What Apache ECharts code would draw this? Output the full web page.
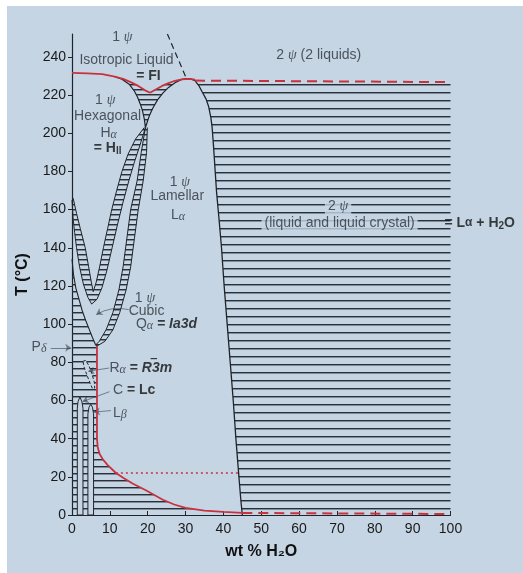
<!DOCTYPE html>
<html>
<head>
<meta charset="utf-8">
<script src="https://cdn.jsdelivr.net/npm/echarts@6/dist/echarts.min.js"></script>
<style>
    html, body { margin: 0; padding: 0; background: #fff; }
    #chart { position: absolute; left: 7px; top: 6px; width: 516px; height: 567px; background: #c5d5e4; }
</style>
</head>
<body>
<div id="chart"></div>
<script>
// 相图数据 (wt % H2O, T °C)
var liquidusLeft = [[0, 231.6], [4, 231.4], [8, 231], [11, 229.8], [13.5, 228.5], [15.5, 226.8], [17.5, 224.8], [19.2, 222.6], [20.6, 221.2]];
var liquidusRight = [[20.6, 221.2], [22, 222.8], [23.8, 224.8], [25.5, 226.3], [27.2, 227.5], [29, 228.2], [31, 228.5], [32.5, 228.1]];
var liquidusDashed = [[32.5, 227.6], [100, 226.8]];
var hexLeft = [[11.3, 229.7], [13.2, 228.3], [15.2, 225.5], [16.5, 222], [17.3, 219], [18, 215.5], [18.6, 212], [19.1, 207.5], [19.4, 203]];
var hexRight = [[19.4, 203], [19.9, 206], [20.4, 209], [21.3, 213], [22.6, 217.5], [24, 221], [25.5, 224], [27.5, 226.8], [29, 228.2]];
var lamellarDome = [[29, 228.2], [30, 228.5], [31.2, 228.6], [32.5, 227.6], [33.5, 225], [34.3, 222], [35.4, 218], [36.1, 214], [36.7, 208], [37, 203.5], [37.4, 193], [37.8, 181], [38.2, 169], [38.8, 156], [39.5, 140], [40.2, 120], [41, 100], [41.8, 80], [42.6, 60], [43.3, 40], [44.1, 20], [44.6, 8], [45, 0]];
var criticalDashed = [[25.2, 252], [30.2, 228.8]];

var uOuter = [[0, 165], [0.3, 155], [0.7, 148], [1.2, 140], [2, 130], [3, 121], [4.2, 114], [5.2, 110.5], [6.6, 113], [7.9, 119], [9.2, 128], [10.6, 140], [12, 152], [13.5, 164], [15, 175], [16.5, 185], [18, 194], [19.4, 203]];
var uInner = [[0.3, 166], [1.2, 158], [2.2, 150], [3.5, 140], [4.4, 130], [5.1, 122], [5.6, 117], [6.4, 122], [7.3, 130], [8.3, 140], [9.4, 150], [10.5, 160], [11.8, 170], [13.2, 180], [14.8, 189], [16.8, 197], [19.1, 203]];
var bLeft = [[19.4, 203], [18.3, 190], [17.2, 175], [15.5, 160], [14.5, 145], [13.5, 130], [12.4, 118], [10.8, 106], [9, 97], [7.2, 91], [6.2, 89]];
var bRight = [[19.9, 203], [19.7, 190], [18.8, 175], [17.5, 160], [16.5, 145], [15.5, 130], [14.3, 118], [12.6, 106], [10.8, 97], [8.7, 91], [6.6, 88.5]];

var cubicLower = [[0, 134], [0.4, 126], [1, 119], [1.9, 112.7], [2.7, 107], [3.6, 102], [4.5, 97.5], [5.4, 93], [6.2, 89.3], [6.6, 88.5]];
var redBottom = [[6.6, 88.5], [6.6, 40], [6.8, 35.5], [7.3, 32], [8.2, 29], [9.5, 26], [11.6, 22], [13.5, 19.5], [16, 16.5], [19.5, 13], [24, 8], [27, 5.5], [30, 3.7], [35, 2.3], [40, 1.6], [45, 1.1]];
var redBottomDashed = [[45, 1.1], [100, 0.5]];
var dotted22 = [[11.6, 22], [44.1, 22]];
var lcStrip = [[1.4, 0], [1.4, 56], [1.6, 59.5], [2.1, 61.8], [2.6, 59.5], [2.9, 56], [2.9, 0]];
var lbStrip = [[4.2, 0], [4.2, 53], [4.5, 56.5], [4.95, 58], [5.4, 56.5], [5.7, 53], [5.7, 0]];
var rEllipse = [[2.9, 80.5], [3.6, 81], [4.4, 78.5], [5.2, 74.5], [5.9, 69.5], [6, 66.5], [5.4, 66.2], [4.8, 69], [4, 73], [3.2, 77.5], [2.9, 80.5]];

// 箭头 [起点, 终点, 弯曲]
var arrows = [
    [[15.0, 107.6], [6.4, 105], -0.2],
    [[-5.6, 87.6], [-0.2, 87.6], 0],
    [[9.8, 77], [4.3, 75.3], 0],
    [[9.9, 64.6], [2.8, 59.4], 0],
    [[10.3, 54.7], [5.8, 53.9], 0]
];

// 文字标注 [x, T, 对齐, 文本]
var notes = [
    [13.3, 250.5, 'c', '{n|1 }{p|ψ}'],
    [14.4, 238.5, 'c', '{n|Isotropic Liquid}'],
    [20.2, 230, 'c', '{b|= FI}'],
    [8.8, 217.5, 'c', '{n|1 }{p|ψ}'],
    [9.4, 208.8, 'c', '{n|Hexagonal}'],
    [9.7, 200, 'c', '{n|H}{g|α}'],
    [9.4, 192, 'c', '{b|= H}{sc|II}'],
    [28.5, 174.2, 'c', '{n|1 }{p|ψ}'],
    [27.8, 166.8, 'c', '{n|Lamellar}'],
    [28, 157.2, 'c', '{n|L}{g|α}'],
    [65.2, 241, 'c', '{n|2 }{p|ψ}{n| (2 liquids)}'],
    [70.3, 161.6, 'cb', '{n|2 }{p|ψ}'],
    [70.7, 152.9, 'cb', '{n|(liquid and liquid crystal)}'],
    [98.4, 152.9, 'l', '{b|= L}{gb|α}{b| + H}{s2|2}{b|O}'],
    [19.3, 113.6, 'c', '{n|1 }{p|ψ}'],
    [19.7, 107, 'c', '{n|Cubic}'],
    [16.9, 100.1, 'l', '{n|Q}{g|α}{bi| = Ia3d}'],
    [-8.7, 88.2, 'c', '{n|P}{g|δ}'],
    [9.9, 76.9, 'l', '{n|R}{g|α}{b| = }{bi|R3m}'],
    [21.6, 77.8, 'c', '{b|‾}'],
    [10.8, 65.5, 'l', '{n|C }{b|= Lc}'],
    [10.8, 53.5, 'l', '{n|L}{g|β}']
];

var BG = '#c5d5e4';
var INK = '#1f242b';
var RED = '#c8323f';

// 横线填充
function stripes(period, color) {
    var c = document.createElement('canvas');
    c.width = 4; c.height = period;
    var g = c.getContext('2d');
    g.fillStyle = color;
    g.fillRect(0, period - 2, 4, 1);
    g.globalAlpha = 0.45;
    g.fillRect(0, period - 1, 4, 1);
    return { image: c, repeat: 'repeat' };
}
var hatchWide = stripes(8, '#2a3039');
var hatchMid = stripes(7, '#2a3039');
var hatchFine = stripes(5, '#2a3039');

function area(points, fill, stroke, dash) {
    return {
        type: 'custom', silent: true, animation: false,
        data: points,
        renderItem: function (params, api) {
            if (params.dataIndex !== 0) return;
            var pts = points.map(function (p) { return api.coord(p); });
            return {
                type: 'polygon', shape: { points: pts },
                style: { fill: fill, stroke: stroke || null, lineWidth: 1, lineDash: dash || null }
            };
        }
    };
}
function curve(points, color, width, dash) {
    return {
        type: 'line', data: points, symbol: 'none', silent: true, animation: false,
        lineStyle: { color: color, width: width, type: dash || 'solid' }
    };
}

var rich = {
    n: { fontSize: 14, color: '#2c3138', fontFamily: 'Liberation Sans', lineHeight: 16 },
    b: { fontSize: 14, color: '#111', fontWeight: 'bold', fontFamily: 'Liberation Sans', lineHeight: 16 },
    bi: { fontSize: 14, color: '#111', fontWeight: 'bold', fontStyle: 'italic', fontFamily: 'Liberation Sans', lineHeight: 16 },
    p: { fontSize: 14, color: '#2c3138', fontStyle: 'italic', fontFamily: 'Liberation Serif', lineHeight: 16 },
    g: { fontSize: 12, color: '#2c3138', fontStyle: 'italic', fontFamily: 'Liberation Serif', lineHeight: 11, verticalAlign: 'bottom', padding: [4, 0, 0, 0] },
    gb: { fontSize: 12, color: '#111', fontWeight: 'bold', fontFamily: 'Liberation Sans', lineHeight: 16 },
    sc: { fontSize: 10, color: '#111', fontWeight: 'bold', fontFamily: 'Liberation Sans', lineHeight: 11, verticalAlign: 'bottom', padding: [3, 0, 0, 0] },
    s2: { fontSize: 10, color: '#111', fontWeight: 'bold', fontFamily: 'Liberation Sans', lineHeight: 11, verticalAlign: 'bottom', padding: [4, 0, 0, 0] }
};

var noteData = notes.map(function (t) {
    var item = {
        value: [t[0], t[1]],
        label: {
            formatter: t[3],
            align: t[2] === 'l' ? 'left' : 'center'
        }
    };
    if (t[2] === 'cb') {
        item.label.backgroundColor = BG;
        item.label.padding = [0, 3];
    }
    return item;
});

var rightTwoPhase = [[32.8, 227], [100, 227], [100, 0]].concat(lamellarDome.slice(4).reverse());
var hexTwoPhase = hexLeft.concat(hexRight.slice(1), liquidusRight.slice(0, 5).reverse(), liquidusLeft.slice(4, 8).reverse());
var uBand = uOuter.concat(uInner.slice().reverse());
var bBand = bLeft.concat(bRight.slice().reverse());
var lowTwoPhase = cubicLower.concat(redBottom.slice(1), [[45, 0], [0, 0]]);

var myChart = echarts.init(document.getElementById('chart'));
var option = {
    animation: false,
    grid: { left: 62.5, right: 72.5, top: 28, bottom: 58 },
    xAxis: {
        type: 'value', min: 0, max: 100, interval: 10,
        name: 'wt % H₂O', nameLocation: 'middle', nameGap: 29,
        nameTextStyle: { fontSize: 16, fontWeight: 'bold', color: '#111', fontFamily: 'Liberation Sans' },
        axisLine: { lineStyle: { color: INK, width: 1.2 } },
        axisTick: { inside: true, length: 4, lineStyle: { color: INK } },
        axisLabel: { fontSize: 14, color: '#1a1a1a', margin: 7, fontFamily: 'Liberation Sans' },
        splitLine: { show: false }
    },
    yAxis: {
        type: 'value', min: 0, max: 252, interval: 20,
        name: 'T (°C)', nameLocation: 'middle', nameGap: 41, nameRotate: 90,
        nameTextStyle: { fontSize: 16, fontWeight: 'bold', color: '#111', fontFamily: 'Liberation Sans' },
        axisLine: { show: true, lineStyle: { color: INK, width: 1.2 } },
        axisTick: { show: true, length: 4, lineStyle: { color: INK } },
        axisLabel: { fontSize: 14, color: '#1a1a1a', margin: 6, showMaxLabel: false, fontFamily: 'Liberation Sans' },
        splitLine: { show: false }
    },
    series: [
        area(rightTwoPhase, hatchWide),
        area(hexTwoPhase, hatchFine),
        area(lowTwoPhase, hatchMid),
        area(uBand, hatchFine),
        area(bBand, hatchFine),
        area(lcStrip, BG, INK),
        area(lbStrip, BG, INK),
        area(rEllipse, BG, INK, [3, 2]),
        curve(lamellarDome, INK, 1.3),
        curve(hexLeft, INK, 1.2),
        curve(hexRight, INK, 1.2),
        curve(uOuter, INK, 1),
        curve(uInner, INK, 1),
        curve(bLeft, INK, 1),
        curve(bRight, INK, 1),
        curve(cubicLower, INK, 1.1),
        curve(criticalDashed, INK, 1.2, [6, 4]),
        curve(liquidusLeft, RED, 1.8),
        curve(liquidusRight, RED, 1.8),
        curve(liquidusDashed, RED, 2, [10, 6]),
        curve(redBottom, RED, 1.8),
        curve(redBottomDashed, RED, 2, [10, 6]),
        curve(dotted22, RED, 1.3, [2, 3]),
        {
            type: 'lines', coordinateSystem: 'cartesian2d', silent: true, animation: false, clip: false,
            symbol: ['none', 'arrow'], symbolSize: 6,
            lineStyle: { color: INK, width: 1 },
            data: arrows.map(function (a) {
                return { coords: [a[0], a[1]], lineStyle: { curveness: a[2] } };
            })
        },
        {
            type: 'scatter', silent: true, animation: false, clip: false,
            symbolSize: 0, z: 10,
            label: { show: true, position: [0, 0], verticalAlign: 'middle', rich: rich },
            data: noteData
        }
    ]
};
myChart.setOption(option);
</script>
</body>
</html>
